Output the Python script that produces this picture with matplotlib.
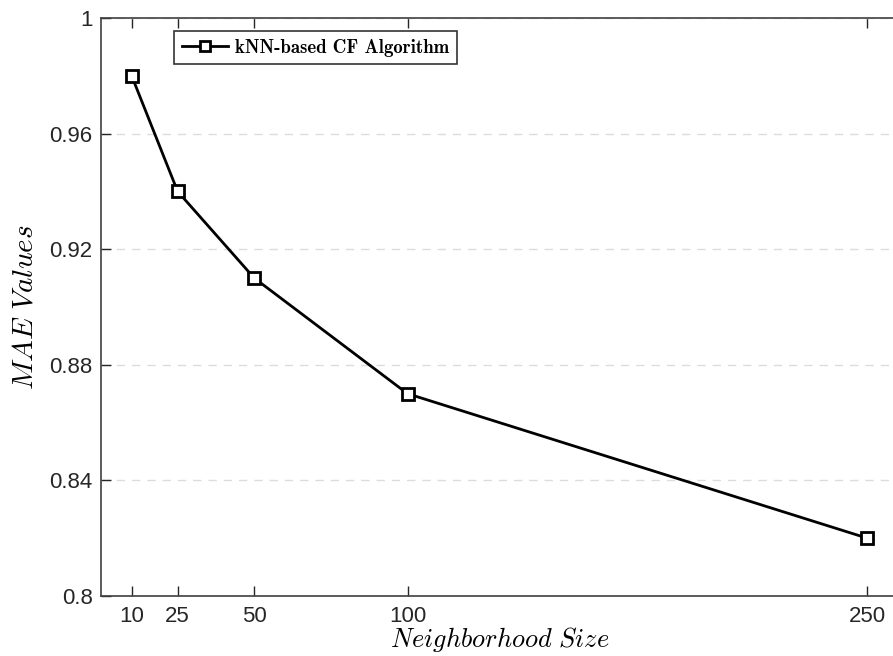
import matplotlib
matplotlib.use("Agg")
import matplotlib.pyplot as plt

# data
neighborhood = [10, 25, 50, 100, 250]
mae = [0.98, 0.94, 0.91, 0.87, 0.82]
y_ticks = [0.8, 0.84, 0.88, 0.92, 0.96, 1.0]
y_labels = ["0.8", "0.84", "0.88", "0.92", "0.96", "1"]

plt.rcParams['mathtext.fontset'] = 'cm'
plt.rcParams['font.family'] = ['Liberation Sans', 'DejaVu Sans']

fig = plt.figure(figsize=(8.93, 6.56), dpi=100)
# axes runs off the right edge like the original screenshot
ax = fig.add_axes([101 / 893, 60 / 656, 797 / 893, 578 / 656])

ax.plot(neighborhood, mae, color='black', lw=2, marker='s', ms=9,
        mfc='white', mec='black', mew=2, label='kNN-based CF Algorithm', zorder=3)

ax.set_xlim(0, 260)
ax.set_ylim(0.8, 1.0)
ax.set_xticks(neighborhood)
ax.set_yticks(y_ticks)
ax.set_yticklabels(y_labels)
ax.tick_params(direction='in', length=7, width=1, colors='#262626', labelsize=16,
               top=True, right=False)
ax.tick_params(axis='x', pad=7)
ax.tick_params(axis='y', pad=6)
for s in ax.spines.values():
    s.set_color('#404040')
    s.set_linewidth(1.2)

ax.yaxis.grid(True, ls=(0, (6, 5)), color='#dcdcdc', lw=1)
ax.set_axisbelow(True)

ax.set_xlabel(r'$Neighborhood\ Size$', fontsize=19, labelpad=-1)
ax.set_ylabel(r'$MAE\ Values$', fontsize=21, labelpad=8)

leg = ax.legend(loc='upper left', bbox_to_anchor=(0.0916, 0.9775), frameon=True,
                fancybox=False, edgecolor='black', handlelength=2.5,
                borderpad=0.4, handletextpad=0.35, borderaxespad=0,
                markerscale=0.8, prop={'family': 'cmb10', 'size': 13.5})
leg.get_frame().set_linewidth(1.2)

fig.savefig('out.png', dpi=100)
